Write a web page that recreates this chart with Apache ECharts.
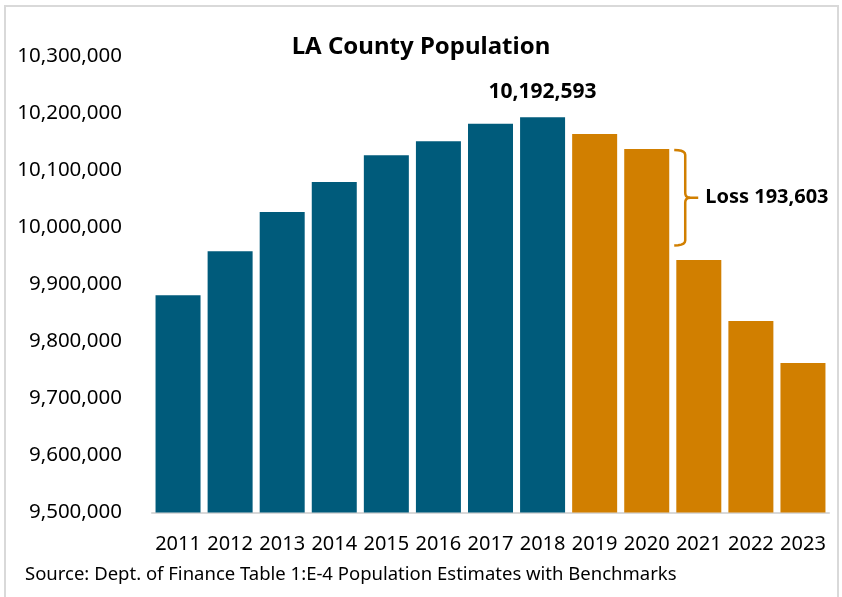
<!DOCTYPE html>
<html>
<head>
<meta charset="utf-8">
<script src="https://cdn.jsdelivr.net/npm/echarts@6/dist/echarts.min.js"></script>
<style>
  html, body { margin: 0; padding: 0; background: #fff; }
  #popChart { width: 842px; height: 597px; }
</style>
</head>
<body>
<div id="popChart"></div>
<script>
const years = ['2011', '2012', '2013', '2014', '2015', '2016', '2017', '2018', '2019', '2020', '2021', '2022', '2023'];
const population = [9880600, 9957700, 10026600, 10079200, 10126000, 10150500, 10181400, 10192593, 10163300, 10137000, 9942500, 9835600, 9762000];
const peakYear = '2018';
const firstLossYear = '2019';
const yMin = 9500000;
const yMax = 10300000;
const yStep = 100000;
// bracket runs from the 2020 bar down to here
const lossYear = '2020';
const lossBottom = 9968000;
const lossText = 'Loss 193,603';
const sourceText = 'Source: Dept. of Finance Table 1:E-4 Population Estimates with Benchmarks';

const BLUE = '#005B7B';
const ORANGE = '#D17F00';
const FONT = '"Noto Sans", sans-serif';

const fmt = v => v.toLocaleString('en-US');

const barData = years.map((y, i) => ({
    value: population[i],
    itemStyle: { color: years.indexOf(y) >= years.indexOf(firstLossYear) ? ORANGE : BLUE },
    label: {
        show: y === peakYear,
        position: 'top',
        distance: 15,
        formatter: p => fmt(p.value),
        fontFamily: FONT,
        fontSize: 21,
        fontWeight: 'bold',
        color: '#000'
    }
}));

const chartDom = document.getElementById('popChart');
const myChart = echarts.init(chartDom);

const option = {
    animation: false,
    backgroundColor: '#fff',
    title: [
        {
            text: 'LA County Population',
            left: 'center',
            top: 35,
            padding: 0,
            textStyle: { fontFamily: FONT, fontSize: 24, fontWeight: 'bold', color: '#000' }
        },
        {
            text: sourceText,
            left: 25,
            top: 565,
            padding: 0,
            textStyle: { fontFamily: FONT, fontSize: 18.5, fontWeight: 'normal', color: '#000' }
        }
    ],
    grid: {
        left: 152,
        right: 13,
        top: 56,
        bottom: 84.5,
        containLabel: false
    },
    xAxis: {
        type: 'category',
        data: years,
        axisLine: { lineStyle: { color: '#D9D9D9', width: 2 } },
        axisTick: { show: false },
        axisLabel: { interval: 0, fontFamily: FONT, fontSize: 20, color: '#000', margin: 22 }
    },
    yAxis: {
        type: 'value',
        min: yMin,
        max: yMax,
        interval: yStep,
        axisLine: { show: false },
        axisTick: { show: false },
        splitLine: { show: false },
        axisLabel: { fontFamily: FONT, fontSize: 20.5, color: '#000', margin: 30, formatter: v => fmt(v) }
    },
    series: [{
        type: 'bar',
        data: barData,
        barWidth: 45
    }]
};

myChart.setOption(option);

// brace + loss label, placed from data values
const ptTop = myChart.convertToPixel({ seriesIndex: 0 }, [lossYear, population[years.indexOf(lossYear)]]);
const ptBot = myChart.convertToPixel({ seriesIndex: 0 }, [lossYear, lossBottom]);
const x0 = ptTop[0] + 22.5 + 5;
const x1 = x0 + 11;
const x2 = x1 + 13;
const yT = ptTop[1] + 1;
const yB = ptBot[1];
const yM = (yT + yB) / 2;
const r = 5;

// quadratic curve sampled into points for a polyline
function quad(p0, c, p1) {
    const pts = [];
    for (let t = 0; t <= 1.0001; t += 0.2) {
        pts.push([
            (1 - t) * (1 - t) * p0[0] + 2 * (1 - t) * t * c[0] + t * t * p1[0],
            (1 - t) * (1 - t) * p0[1] + 2 * (1 - t) * t * c[1] + t * t * p1[1]
        ]);
    }
    return pts;
}
const upper = [].concat(
    quad([x0, yT], [x1, yT], [x1, yT + r]),
    quad([x1, yM - r], [x1, yM], [x1 + r, yM]),
    [[x2, yM]]
);
const lower = [].concat(
    quad([x1 + r, yM], [x1, yM], [x1, yM + r]),
    quad([x1, yB - r], [x1, yB], [x0, yB])
);

myChart.setOption({
    graphic: [
        {
            type: 'rect',
            shape: { x: 5, y: 6, width: 833, height: 620 },
            style: { fill: 'none', stroke: '#D9D9D9', lineWidth: 2 },
            silent: true
        },
        {
            type: 'polyline',
            shape: { points: upper },
            style: { fill: 'none', stroke: ORANGE, lineWidth: 2.5 },
            silent: true
        },
        {
            type: 'polyline',
            shape: { points: lower },
            style: { fill: 'none', stroke: ORANGE, lineWidth: 2.5 },
            silent: true
        },
        {
            type: 'text',
            x: x2 + 7,
            y: yM,
            style: {
                text: lossText,
                fontFamily: FONT,
                fontSize: 20,
                fontWeight: 'bold',
                fill: '#000',
                verticalAlign: 'middle'
            }
        }
    ]
});
</script>
</body>
</html>
